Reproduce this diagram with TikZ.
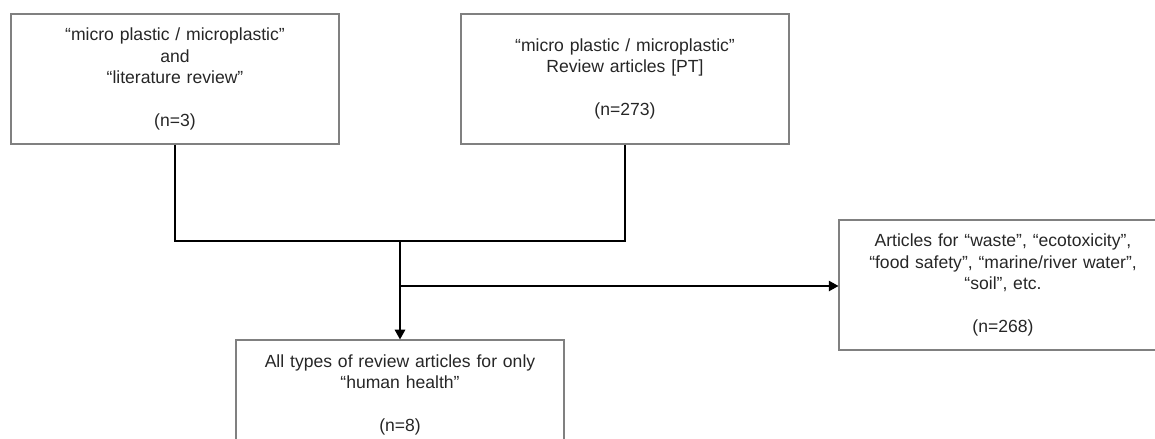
\documentclass[tikz,border=0pt]{standalone}
\usepackage{fontspec}
\setmainfont{Liberation Sans}
\usetikzlibrary{arrows.meta}
\begin{document}
\begin{tikzpicture}[x=.02cm,y=-.02cm,
	box/.style={draw=black!50,line width=.7pt,minimum width=6.56cm,minimum height=2.6cm,text width=6.3cm,align=center,inner sep=0,text=black!85,font=\fontsize{10}{12.2}\selectfont},
	link/.style={draw=black,line width=.6pt},
	tip/.style={-{Triangle[length=5.5pt,width=6pt]}}]
		\useasboundingbox (0,0) rectangle (1155,439);
		\clip (0,0) rectangle (1155,439);
		\node[box] (lit) at (175,79){``micro plastic / microplastic''\\and\\``literature review''\\[12.2pt](n=3)};
		\node[box] (pt) at (625,79){``micro plastic / microplastic''\\Review articles [PT]\\[12.2pt](n=273)};
		\node[box,minimum height=2.2cm] (hh) at (400,395){All types of review articles for only\\``human health''\\[12.2pt](n=8)};
		\node[box] (other) at (1003,285){Articles for ``waste'', ``ecotoxicity'',\\``food safety'', ``marine/river water'',\\``soil'', etc.\\[12.2pt](n=268)};
		\coordinate (join) at (400,241);
		\coordinate (split) at (400,286);
		\draw[link] (lit.south)|-(join) (pt.south)|-(join);
		\draw[link,tip] (join)--(hh.north);
		\draw[link,tip] (split)--(split-|other.west);
	\end{tikzpicture}
\end{document}
